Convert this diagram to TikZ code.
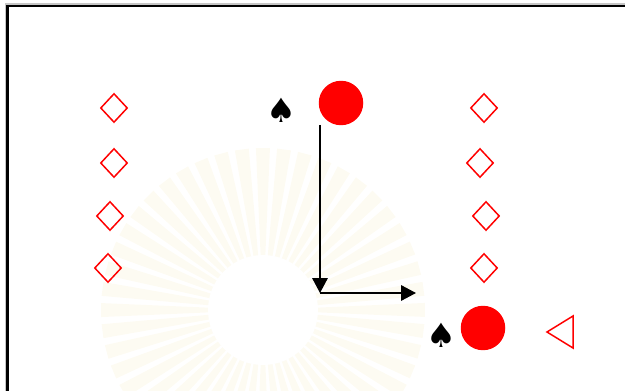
\documentclass[tikz,border=0pt]{standalone}
\usepackage{fontspec}
\newfontfamily\symfont{DejaVu Sans}
\usetikzlibrary{arrows.meta, positioning, shapes.geometric}

\definecolor{burst}{RGB}{253,251,242}

\tikzset{
  mark diamond/.style={shape=diamond, draw=red, line width=0.85pt, inner sep=0pt,
    minimum width=0.54cm, minimum height=0.58cm},
  dot/.style={shape=circle, fill=red, inner sep=0pt, minimum size=0.89cm},
  spade/.style={inner sep=0pt, font=\symfont\fontsize{19}{19}\selectfont},
  move/.style={line width=0.9pt, -{Triangle[length=8.5pt, width=8.8pt]}},
}

\begin{document}
\begin{tikzpicture}[x=0.02cm, y=-0.02cm]
  \useasboundingbox (0,0) rectangle (625,391);
  \clip (0,0) rectangle (625,391);

  % faint emblem in the background
  \foreach \a in {0,7.5,...,352.5}
    \fill[burst] (263,310) -- ++(\a-2.5:162) -- ++(\a+90:14) -- cycle;
  \fill[white] (263,310) circle (55);

  % frame
  \draw[gray!45, line width=0.6pt] (6,396) -- (6,4) -- (630,4);
  \draw[line width=1.15pt] (7.5,396) -- (7.5,6) -- (630,6);

  % left column
  \node[mark diamond] (l1) at (114,108) {};
  \node[mark diamond] (l2) at (114,163) {};
  \node[mark diamond] (l3) at (110,216) {};
  \node[mark diamond] (l4) at (108,268) {};

  % right column
  \node[mark diamond] (r1) at (484,108) {};
  \node[mark diamond] (r2) at (480,163) {};
  \node[mark diamond] (r3) at (486,216) {};
  \node[mark diamond] (r4) at (484,268) {};

  % start and end
  \node[spade] (s1) at (281,110) {♠};
  \node[dot] (c1) at (341,103) {};
  \node[spade] (s2) at (441,335) {♠};
  \node[dot] (c2) at (483,328) {};

  % path down then right
  \coordinate (top) at (320,125);
  \coordinate (turn) at (320,293);
  \coordinate (tip) at (416,293);
  \draw[move] (top) -- (turn);
  \draw[move] (turn) -- (tip);

  % triangle pointing left
  \coordinate (apex) at (547,332);
  \draw[red, line width=0.85pt] (apex) -- (573,316) -- (573,348) -- cycle;
\end{tikzpicture}
\end{document}
